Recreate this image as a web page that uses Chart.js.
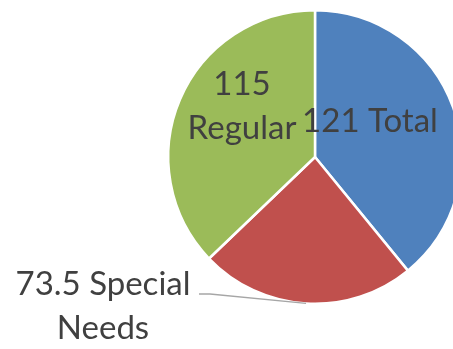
<!DOCTYPE html>
<html>
<head>
<meta charset="utf-8">
<script src="https://cdn.jsdelivr.net/npm/chart.js@4"></script>
<style>
  html, body { margin: 0; padding: 0; background: #fff; overflow: hidden; }
  #wrap { position: absolute; left: 0; top: 0; width: 630px; height: 349px; }
</style>
</head>
<body>
<div id="wrap"><canvas id="grafico" width="630" height="349"></canvas></div>
<script>
const categorias = ["Total", "Special Needs", "Regular"];
const valores = [121, 73.5, 115];
const cores = ["#4F81BD", "#C0504D", "#9BBB59"];

// posição do texto de cada fatia (deslocamento a partir do centro da pizza, primeira linha de base)
const rotulos = [
    { linhas: ["121 Total"], dx: 55, dy: -25 },
    { linhas: ["73.5 Special", "Needs"], dx: -212, dy: 138, guia: true },
    { linhas: ["115", "Regular"], dx: -73, dy: -62 }
];

const pluginRotulos = {
    id: "rotulos",
    afterDatasetsDraw(chart) {
        const ctx = chart.ctx;
        const arcos = chart.getDatasetMeta(0).data;
        ctx.save();
        ctx.font = "33px Lato";
        ctx.fillStyle = "#404040";
        ctx.textAlign = "center";
        ctx.textBaseline = "alphabetic";
        arcos.forEach((arco, i) => {
            const r = rotulos[i];
            const cx = arco.x + r.dx;
            const cy = arco.y + r.dy;
            r.linhas.forEach((linha, j) => {
                ctx.fillText(linha, cx, cy + j * 44);
            });
            if (r.guia) {
                const meio = (arco.startAngle + arco.endAngle) / 2;
                const px = arco.x + arco.outerRadius * Math.cos(meio);
                const py = arco.y + arco.outerRadius * Math.sin(meio);
                ctx.strokeStyle = "#A6A6A6";
                ctx.lineWidth = 1.3;
                ctx.beginPath();
                ctx.moveTo(cx + 96, cy - 1);
                ctx.lineTo(cx + 107, cy - 1);
                ctx.lineTo(px, py);
                ctx.stroke();
            }
        });
        ctx.restore();
    }
};

new Chart(document.getElementById("grafico").getContext("2d"), {
    type: "pie",
    data: {
        labels: categorias,
        datasets: [{
            data: valores,
            backgroundColor: cores,
            borderColor: "#ffffff",
            borderWidth: 2.5
        }]
    },
    options: {
        responsive: false,
        animation: false,
        layout: { padding: { top: 9, bottom: 44, left: 0, right: 0 } },
        plugins: {
            legend: { display: false },
            tooltip: { enabled: false }
        }
    },
    plugins: [pluginRotulos]
});
</script>
</body>
</html>
